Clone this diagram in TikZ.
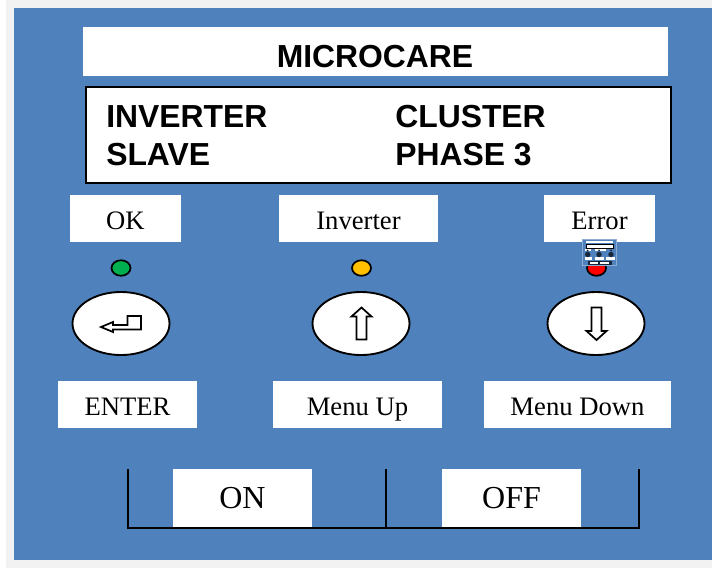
\documentclass[tikz,border=0pt]{standalone}
\usepackage{fontspec}
\setmainfont{Liberation Serif}
\newfontfamily\hd{Liberation Sans}
\usetikzlibrary{shapes.geometric}
\definecolor{panel}{HTML}{4F81BD}
\definecolor{page}{HTML}{F2F2F2}
\definecolor{ledg}{HTML}{00B050}
\definecolor{ledy}{HTML}{FFC000}
\definecolor{ledr}{HTML}{FF0000}
\tikzset{
 x=0.75pt,y=-0.75pt,
 label box/.style={fill=white,inner sep=0pt,anchor=center,text height=0.68em,text depth=0pt},
 big/.style={font=\hd\bfseries\fontsize{23.9}{24}\selectfont,text=black,inner sep=0pt,anchor=base west},
 btn/.style={ellipse,draw=black,line width=1.4pt,fill=white,minimum width=97*0.75pt,minimum height=63*0.75pt,inner sep=0pt},
 led/.style={ellipse,draw=black,line width=1.3pt,minimum width=19*0.75pt,minimum height=15.5*0.75pt,inner sep=0pt},
 glyph/.style={draw=black,line width=1.3pt,fill=white,line join=miter},
 rail/.style={draw=black,line width=1.5pt,line cap=rect},
 mini/.style={fill=white,draw=none},
}
\newcommand{\lbl}[7]{\node[label box,minimum width=#3*0.75pt,minimum height=#4*0.75pt,font=\fontsize{#6}{#6}\selectfont] (#7) at (#1,#2) {\raisebox{-5pt}{#5}};}
\begin{document}
\begin{tikzpicture}
\useasboundingbox (0,0) rectangle (712,568);
\fill[white] (0,0) rectangle (712,568);
\fill[page] (6,0) rectangle (712,568);
\fill[panel] (14,8) rectangle (712,560);
% title
\fill[white] (83,27) rectangle (668,76);
\node[font=\hd\bfseries\fontsize{23.9}{24}\selectfont,inner sep=0pt,anchor=base] (title) at (375,67) {MICROCARE};
% display
\node[draw=black,line width=1.5pt,fill=white,minimum width=585*0.75pt,minimum height=96*0.75pt,inner sep=0pt] (display) at (378.5,135) {};
\node[big] (d1) at (106,127) {INVERTER};
\node[big] (d2) at (395,127) {CLUSTER};
\node[big] (d3) at (106,165) {SLAVE};
\node[big] (d4) at (395,165) {PHASE 3};
% top labels
\lbl{125.5}{218.5}{111}{47}{OK}{20}{lok}
\lbl{358.5}{218.5}{159}{47}{Inverter}{20}{linv}
\lbl{599.5}{218.5}{111}{47}{Error}{20}{lerr}
% leds
\node[led,fill=ledg] (l1) at (121,268) {};
\node[led,fill=ledy] (l2) at (361.5,268) {};
\node[led,fill=ledr] (l3) at (596.5,268) {};
% thumbnail
\fill[panel!65!white] (582,239) rectangle (616.5,266);
\fill[panel] (583,240) rectangle (615.5,265);
\fill[mini] (586,240.5) rectangle (613,243);
\fill[mini,draw=black,line width=0.5pt] (586,244) rectangle (613,248);
\fill[mini] (585,248.7) rectangle (591,251);
\fill[mini] (595,248.7) rectangle (606,251);
\fill[mini] (585,257) rectangle (592,260);
\fill[mini] (595,257) rectangle (604,260);
\fill[mini] (606,257) rectangle (615,260);
\fill[black!70!panel] (587.7,254.5) circle (2.7);
\fill[black!70!panel] (599,254.5) circle (2.7);
\fill[black!70!panel] (611,254.5) circle (2.7);
\fill[black!70!panel] (587.7,250.5) circle (1);
\fill[black!70!panel] (599,250.5) circle (1);
\fill[black!70!panel] (611,250.5) circle (1);
\fill[black!70!panel] (588,261) rectangle (611.7,264.7);
\fill[mini] (589.5,261.7) rectangle (598,264);
\fill[mini] (599.5,261.7) rectangle (609,264);
% buttons
\node[btn] (b1) at (121,323.5) {};
\node[btn] (b2) at (361,323.5) {};
\node[btn] (b3) at (596,323.5) {};
% enter arrow
\draw[glyph] (101,327) -- (113,322) -- (113,325) -- (127.5,325) -- (127.5,316) -- (141,316) -- (141,329.5) -- (113,329.5) -- (113,332) -- cycle;
% up arrow
\draw[glyph] (361.5,307.5) -- (371.5,316.5) -- (366.5,316.5) -- (366.5,339.5) -- (356.5,339.5) -- (356.5,316.5) -- (351.5,316.5) -- cycle;
% down arrow
\draw[glyph] (596.5,340) -- (606.5,331) -- (601.5,331) -- (601.5,307.5) -- (591.5,307.5) -- (591.5,331) -- (586.5,331) -- cycle;
% bottom labels
\lbl{127.5}{404.5}{139}{47}{ENTER}{20}{lent}
\lbl{357.5}{404.5}{169}{47}{Menu Up}{20}{lup}
\lbl{577.5}{404.5}{187}{47}{Menu Down}{20}{ldn}
% rails
\coordinate (ra) at (127.5,469.5);
\coordinate (rb) at (127.5,527.5);
\coordinate (rc) at (639,527.5);
\coordinate (rd) at (639,469.5);
\coordinate (re) at (385.5,469.5);
\coordinate (rf) at (385.5,527.5);
\draw[rail] (ra) -- (rb) -- (rc) -- (rd);
\draw[rail] (re) -- (rf);
\lbl{242.5}{497.5}{139}{58}{ON}{24}{lon}
\lbl{511.5}{497.5}{139}{58}{OFF}{24}{loff}
\end{tikzpicture}
\end{document}
